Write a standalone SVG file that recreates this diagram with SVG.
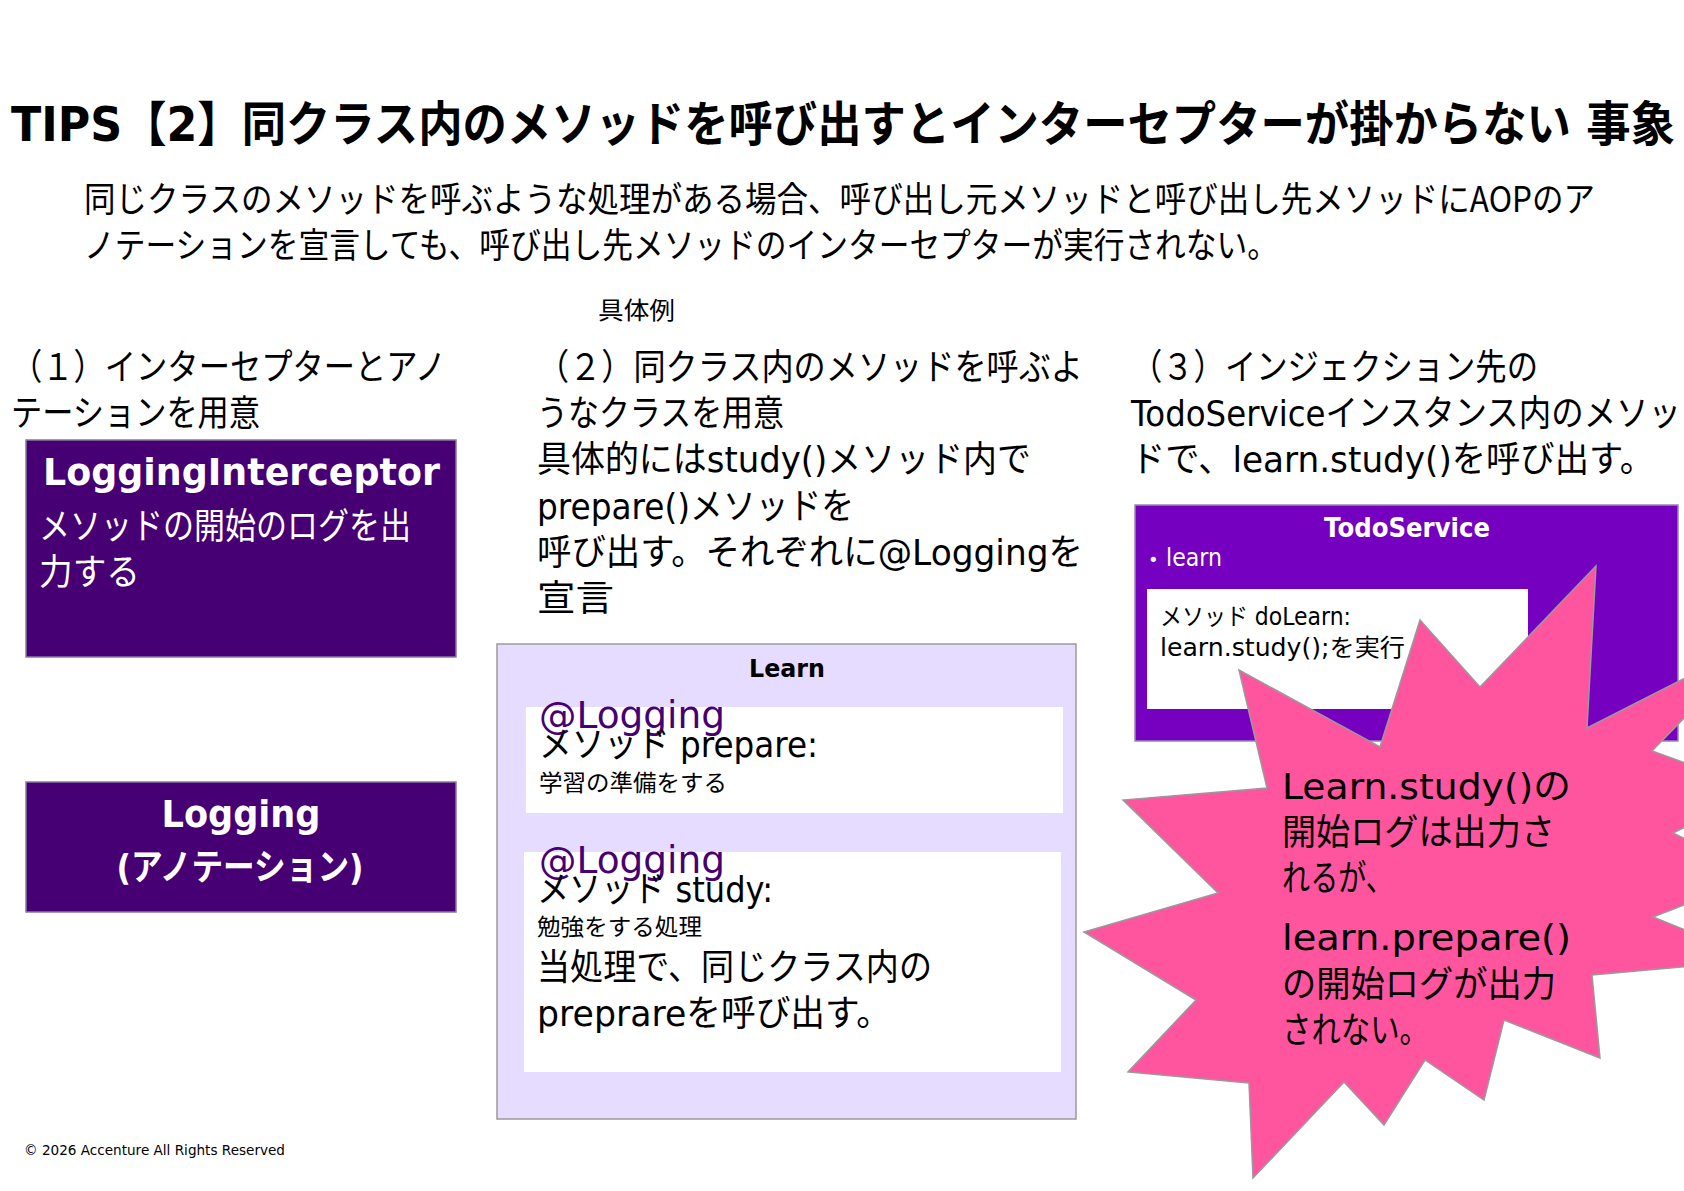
<svg xmlns="http://www.w3.org/2000/svg" width="1684" height="1191" viewBox="0 0 1684 1191">
<style>
.t{font-family:"DejaVu Sans","Noto Sans CJK JP",sans-serif;fill:#000}
.j{font-family:"Noto Sans CJK JP","DejaVu Sans",sans-serif;fill:#000}
.b{font-weight:bold}
.w{fill:#fff}
.p{fill:#460073}
.h1{font-size:48px}
.h2{font-size:35px}
.m{font-size:36px}
.s{font-size:23px}
.x{font-size:24px}
.dark{fill:#460073;stroke:#8a7a9e;stroke-width:1.5}
.white{fill:#fff}
</style>
<rect width="1684" height="1191" fill="#fff"/>
<g id="title">
<text class="t b h1" x="11" y="141" textLength="1664" lengthAdjust="spacingAndGlyphs">TIPS【2】同クラス内のメソッドを呼び出すとインターセプターが掛からない 事象</text>
<text class="j h2" x="84" y="212" textLength="1511" lengthAdjust="spacingAndGlyphs">同じクラスのメソッドを呼ぶような処理がある場合、呼び出し元メソッドと呼び出し先メソッドにAOPのア</text>
<text class="j h2" x="84" y="258" textLength="1194" lengthAdjust="spacingAndGlyphs">ノテーションを宣言しても、呼び出し先メソッドのインターセプターが実行されない。</text>
<text class="j" x="598" y="319" font-size="24" textLength="77" lengthAdjust="spacingAndGlyphs">具体例</text>
</g>
<g id="step1">
<text class="j m" x="11" y="380" textLength="435" lengthAdjust="spacingAndGlyphs">（１）インターセプターとアノ</text>
<text class="j m" x="11" y="426" textLength="249" lengthAdjust="spacingAndGlyphs">テーションを用意</text>
</g>
<g id="step2">
<text class="j m" x="537" y="380" textLength="546" lengthAdjust="spacingAndGlyphs">（２）同クラス内のメソッドを呼ぶよ</text>
<text class="j m" x="537" y="426" textLength="247" lengthAdjust="spacingAndGlyphs">うなクラスを用意</text>
<text class="t m" x="537" y="472" textLength="494" lengthAdjust="spacingAndGlyphs">具体的にはstudy()メソッド内で</text>
<text class="t m" x="537" y="519" textLength="317" lengthAdjust="spacingAndGlyphs">prepare()メソッドを</text>
<text class="t m" x="537" y="565" textLength="546" lengthAdjust="spacingAndGlyphs">呼び出す。それぞれに@Loggingを</text>
<text class="j m" x="537" y="611" textLength="77" lengthAdjust="spacingAndGlyphs">宣言</text>
</g>
<g id="step3">
<text class="j m" x="1131" y="380" textLength="407" lengthAdjust="spacingAndGlyphs">（３）インジェクション先の</text>
<text class="t m" x="1131" y="426" textLength="550" lengthAdjust="spacingAndGlyphs">TodoServiceインスタンス内のメソッ</text>
<text class="t m" x="1131" y="472" textLength="523" lengthAdjust="spacingAndGlyphs">ドで、learn.study()を呼び出す。</text>
</g>
<g id="connectors"></g>
<g id="loggingInterceptor">
<rect class="dark" x="26" y="440" width="430" height="217"/>
<text class="t b w" x="43" y="485" font-size="38" textLength="397" lengthAdjust="spacingAndGlyphs">LoggingInterceptor</text>
<text class="j m w" x="39" y="539" textLength="372" lengthAdjust="spacingAndGlyphs">メソッドの開始のログを出</text>
<text class="j m w" x="39" y="585" textLength="101" lengthAdjust="spacingAndGlyphs">力する</text>
</g>
<g id="logging">
<rect class="dark" x="26" y="782" width="430" height="130"/>
<text class="t b w" x="241" y="827" font-size="38" text-anchor="middle" textLength="159" lengthAdjust="spacingAndGlyphs">Logging</text>
<text class="t b w m" x="240" y="880" text-anchor="middle" textLength="247" lengthAdjust="spacingAndGlyphs">(アノテーション)</text>
</g>
<g id="learn">
<rect x="497" y="644" width="579" height="475" fill="#e6dcff" stroke="#9a9a9a" stroke-width="1.5"/>
<text class="t b" x="787" y="677" font-size="25" text-anchor="middle" textLength="76" lengthAdjust="spacingAndGlyphs">Learn</text>
<rect class="white" x="526" y="707" width="537" height="106"/>
<text class="t p" x="539" y="728" font-size="37" textLength="186" lengthAdjust="spacingAndGlyphs">@Logging</text>
<text class="t m" x="539" y="757" textLength="279" lengthAdjust="spacingAndGlyphs">メソッド prepare:</text>
<text class="j s" x="539" y="791" textLength="188" lengthAdjust="spacingAndGlyphs">学習の準備をする</text>
<rect class="white" x="524" y="852" width="537" height="220"/>
<text class="t p" x="539" y="873" font-size="37" textLength="186" lengthAdjust="spacingAndGlyphs">@Logging</text>
<text class="t m" x="537" y="902" textLength="236" lengthAdjust="spacingAndGlyphs">メソッド study:</text>
<text class="j s" x="537" y="935" textLength="165" lengthAdjust="spacingAndGlyphs">勉強をする処理</text>
<text class="j m" x="537" y="980" textLength="395" lengthAdjust="spacingAndGlyphs">当処理で、同じクラス内の</text>
<text class="t m" x="537" y="1026" textLength="354" lengthAdjust="spacingAndGlyphs">preprareを呼び出す。</text>
</g>
<g id="todoService">
<rect x="1135" y="505" width="543" height="236" fill="#7500c0" stroke="#9a86b0" stroke-width="1.5"/>
<text class="t b w" x="1407" y="537" font-size="26" text-anchor="middle" textLength="166" lengthAdjust="spacingAndGlyphs">TodoService</text>
<text class="t w" x="1148" y="566" font-size="18">•</text>
<text class="t w x" x="1166" y="566" textLength="56" lengthAdjust="spacingAndGlyphs">learn</text>
<rect class="white" x="1147" y="589" width="381" height="120"/>
<text class="t x" x="1160" y="625" textLength="191" lengthAdjust="spacingAndGlyphs">メソッド doLearn:</text>
<text class="t x" x="1160" y="656" textLength="245" lengthAdjust="spacingAndGlyphs">learn.study();を実行</text>
</g>
<g id="explosion">
<polygon points="1596,566 1587,728 1760,640 1652,751 1760,790 1673,833 1760,875 1653,917 1760,960 1592,975 1600,1058 1504,1020 1484,1100 1425,1060 1384,1125 1344,1082 1253,1178 1249,1083 1128,1072 1196,1000 1084,932 1218,893 1123,800 1267,788 1239,670 1380,747 1420,620 1480,687" fill="#ff559f" stroke="#9a9a9a" stroke-width="1.5"/>
<text class="t m" x="1282" y="799" textLength="289" lengthAdjust="spacingAndGlyphs">Learn.study()の</text>
<text class="j m" x="1282" y="845" textLength="273" lengthAdjust="spacingAndGlyphs">開始ログは出力さ</text>
<text class="j m" x="1282" y="891" textLength="112" lengthAdjust="spacingAndGlyphs">れるが、</text>
<text class="t m" x="1282" y="950" textLength="289" lengthAdjust="spacingAndGlyphs">learn.prepare()</text>
<text class="j m" x="1282" y="997" textLength="274" lengthAdjust="spacingAndGlyphs">の開始ログが出力</text>
<text class="j m" x="1282" y="1043" textLength="147" lengthAdjust="spacingAndGlyphs">されない。</text>
</g>
<g id="footer">
<text class="t" x="24" y="1155" font-size="13.5" textLength="261" lengthAdjust="spacingAndGlyphs">© 2026 Accenture All Rights Reserved</text>
</g>
</svg>
